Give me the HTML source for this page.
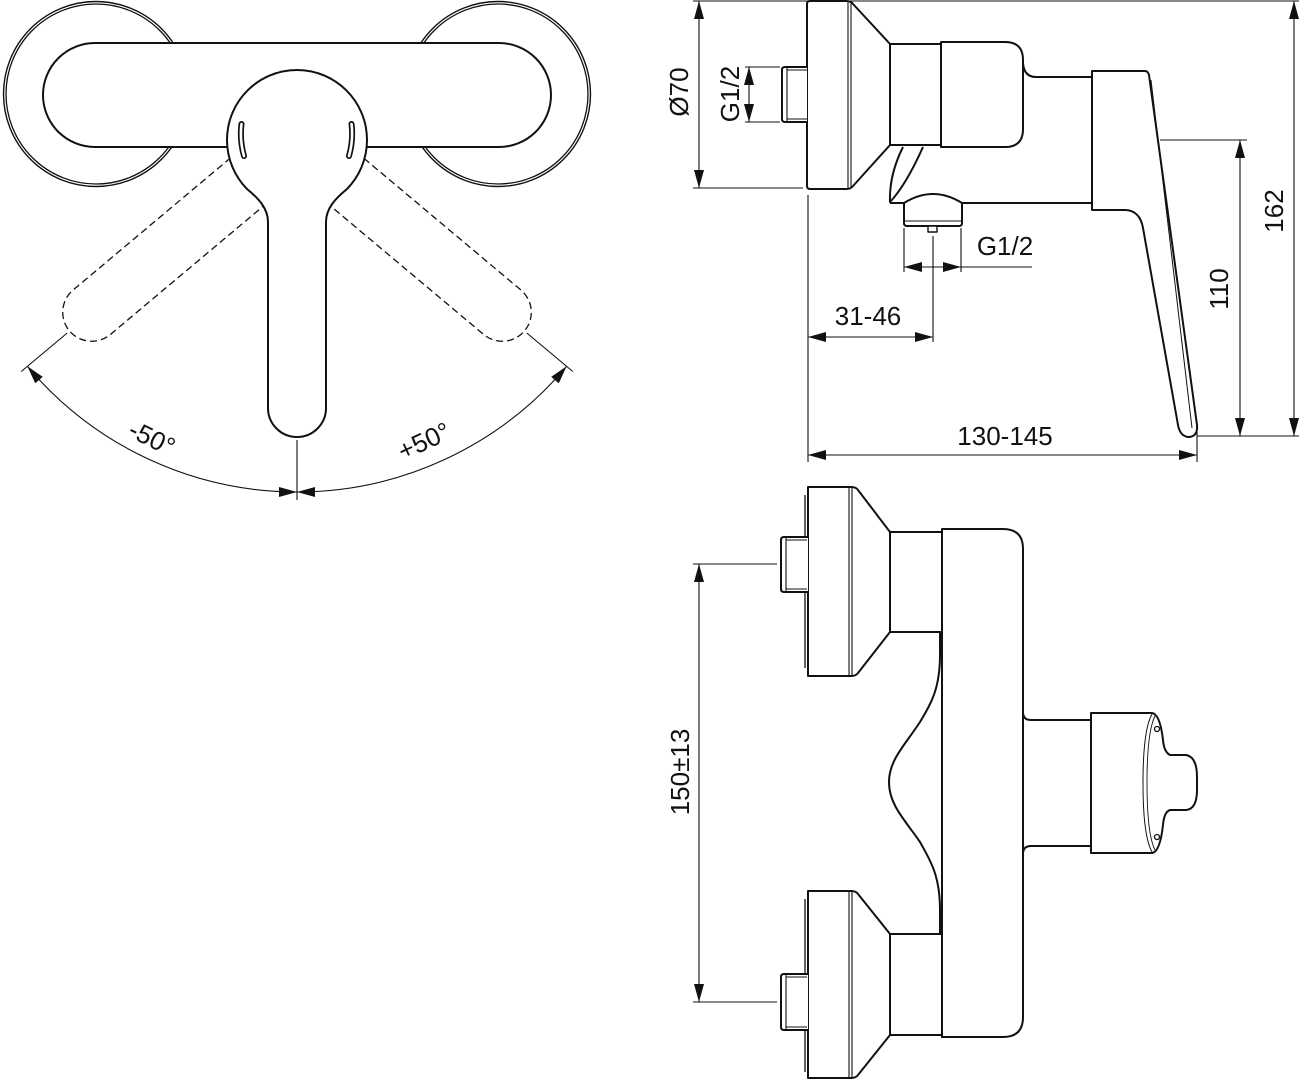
<!DOCTYPE html>
<html>
<head>
<meta charset="utf-8">
<style>
html,body{margin:0;padding:0;background:#fff;}
svg{display:block;}
text{font-family:"Liberation Sans",Arial,sans-serif;font-size:26px;fill:#111;}
</style>
</head>
<body>
<svg width="1299" height="1080" viewBox="0 0 1299 1080" xmlns="http://www.w3.org/2000/svg">
<rect width="1299" height="1080" fill="#fff"/>

<!-- ================= LEFT VIEW (front, handle) ================= -->
<g fill="none" stroke="#111" stroke-linejoin="round">
  <!-- wall rosettes (double line) -->
  <circle cx="96" cy="94" r="92.5" stroke-width="1.4"/>
  <circle cx="96" cy="94" r="90" stroke-width="1.3"/>
  <circle cx="498" cy="94" r="92.5" stroke-width="1.4"/>
  <circle cx="498" cy="94" r="90" stroke-width="1.3"/>
  <!-- body bar -->
  <rect x="43" y="43" width="508" height="104" rx="52" fill="#fff" stroke-width="2"/>
  <!-- dashed rotated levers -->
  <g stroke-dasharray="7 4" stroke-width="1.3">
    <path transform="rotate(50 297 140)" d="M268,180 L268,408 A29,29 0 0,0 326,408 L326,180"/>
    <path transform="rotate(-50 297 140)" d="M268,180 L268,408 A29,29 0 0,0 326,408 L326,180"/>
  </g>
  <!-- handle head + lever -->
  <path d="M268,408 L268,222 C268,208 258,198 247,189 A70,70 0 1,1 347,189 C336,198 326,208 326,222 L326,408 A29,29 0 0,1 268,408 Z" fill="#fff" stroke-width="2"/>
  <!-- slots -->
  <path d="M241.5,124 Q239.5,140 244,156" stroke-width="6" stroke-linecap="round"/>
  <path d="M241.5,124 Q239.5,140 244,156" stroke="#fff" stroke-width="2.6" stroke-linecap="round"/>
  <path d="M351.5,124 Q353.5,140 349,156" stroke-width="6" stroke-linecap="round"/>
  <path d="M351.5,124 Q353.5,140 349,156" stroke="#fff" stroke-width="2.6" stroke-linecap="round"/>

  <!-- angle dimension -->
  <g stroke-width="1.1">
    <path d="M67.2,333 L21.2,371.5"/>
    <path d="M526.8,333 L572.8,371.5"/>
    <path d="M27.4,366.3 A352,352 0 0,0 297,492"/>
    <path d="M566.6,366.3 A352,352 0 0,1 297,492"/>
    <path d="M297,440 V500"/>
  </g>
</g>
<g fill="#111" stroke="none">
  <polygon points="27.4,366.3 42.8,376.9 35.2,383.3"/>
  <polygon points="566.6,366.3 551.2,376.9 558.8,383.3"/>
  <polygon points="297,492 279,487 279,497"/>
  <polygon points="297,492 315,487 315,497"/>
</g>
<text transform="translate(152,438) rotate(26)" text-anchor="middle" y="9">-50°</text>
<text transform="translate(424,441) rotate(-25)" text-anchor="middle" y="9">+50°</text>

<!-- ================= SIDE VIEW (top right) ================= -->
<g fill="none" stroke="#111" stroke-linejoin="round" stroke-width="2">
  <!-- body top/bottom lines -->
  <path d="M1023,63 Q1024,77 1036,77 L1092,77"/>
  <path d="M890,203 L1092,203"/>
  <!-- escutcheon -->
  <path d="M807,4 Q807,1 810,1 L846,1 Q851,1 853,4 L890,44 L890,145 L853,186 Q851,189 846,189 L810,189 Q807,189 807,186 Z" fill="#fff"/>
  <path d="M848,2 V188 M851,2 V188" stroke-width="1.1"/>
  <!-- stub -->
  <path d="M807,67 L785,67 Q782,67 782,70 L782,119 Q782,122 785,122 L807,122" fill="#fff"/>
  <path d="M787,68 V121 M787,70 H807 M787,119 H807" stroke-width="1.1"/>
  <!-- cylinder -->
  <rect x="890" y="44" width="51" height="101" fill="#fff"/>
  <!-- bonnet -->
  <path d="M941,42 L1005,42 Q1023,42 1023,60 L1023,129 Q1023,147 1005,147 L941,147 Z" fill="#fff"/>
  <!-- diverter blade -->
  <path d="M903,147 Q889,175 890,202 Q906,185 923,147" fill="#fff"/>
  <!-- aerator -->
  <path d="M904,203 Q933,185 962,203 L962,223 Q962,226 959,226 L907,226 Q904,226 904,223 Z" fill="#fff"/>
  <path d="M904,221 H962" stroke-width="1.1"/>
  <rect x="928" y="226" width="9" height="6" fill="#fff" stroke-width="1.4"/>
  <!-- lever -->
  <path d="M1092,71 L1145,71 Q1148,71 1149,75 L1197,425 Q1198,437 1188,437 Q1180,436 1178,425 L1143,228 Q1140,211 1126,210 L1092,210 Z" fill="#fff"/>
  <path d="M1151,80 L1192,428" stroke-width="1"/>
</g>
<!-- side view dimensions -->
<g fill="none" stroke="#111" stroke-width="1.1">
  <path d="M699,1 V188"/>
  <path d="M693,1 H1299"/>
  <path d="M693,188 H803"/>
  <path d="M749,67 V122 M745,67 H780 M745,122 H780"/>
  <path d="M808,337 H933 M933,236 V342"/>
  <path d="M904,267 H1032 M904,228 V272 M961,228 V272"/>
  <path d="M808,455 H1197 M1197,432 V462 M808,195 V462"/>
  <path d="M1240,140 V436 M1160,140 H1247 M1197,436 H1299"/>
  <path d="M1294,1 V436"/>
</g>
<g fill="#111" stroke="none">
  <polygon points="699,1 694,19 704,19"/>
  <polygon points="699,188 694,170 704,170"/>
  <polygon points="749,67 744,85 754,85"/>
  <polygon points="749,122 744,104 754,104"/>
  <polygon points="808,337 826,332 826,342"/>
  <polygon points="933,337 915,332 915,342"/>
  <polygon points="904,267 922,262 922,272"/>
  <polygon points="961,267 943,262 943,272"/>
  <polygon points="808,455 826,450 826,460"/>
  <polygon points="1197,455 1179,450 1179,460"/>
  <polygon points="1240,140 1235,158 1245,158"/>
  <polygon points="1240,436 1235,418 1245,418"/>
  <polygon points="1294,1 1289,19 1299,19"/>
  <polygon points="1294,436 1289,418 1299,418"/>
</g>
<text transform="translate(688,92) rotate(-90)" text-anchor="middle">Ø70</text>
<text transform="translate(739,94) rotate(-90)" text-anchor="middle">G1/2</text>
<text transform="translate(1283,211) rotate(-90)" text-anchor="middle">162</text>
<text transform="translate(1228,289) rotate(-90)" text-anchor="middle">110</text>
<text x="1005" y="255" text-anchor="middle">G1/2</text>
<text x="868" y="325" text-anchor="middle">31-46</text>
<text x="1005" y="445" text-anchor="middle">130-145</text>

<!-- ================= FRONT VIEW (bottom right) ================= -->
<g fill="none" stroke="#111" stroke-linejoin="round" stroke-width="2">
  <!-- body -->
  <path d="M942,529 L1003,529 Q1023,529 1023,549 L1023,1017 Q1023,1037 1003,1037 L942,1037 Z" fill="#fff"/>
  <path d="M1023,712 Q1023,720 1031,720 L1091,720"/>
  <path d="M1023,854 Q1023,846 1031,846 L1091,846"/>
  <!-- wave -->
  <path d="M940,632 L940,655 C940,690 930,705 920,722 C905,745 889,760 889,782 C889,805 905,820 920,842 C930,860 940,875 940,910 L940,934"/>
  <!-- knob -->
  <path d="M1091,713 L1152,713 Q1160,714 1163,740 Q1164,752 1170,755 L1186,755 Q1197,757 1197,777 L1197,790 Q1197,809 1186,810 L1170,810 Q1164,812 1163,825 Q1160,852 1152,853 L1091,853 Z" fill="#fff"/>
  <path d="M1152,714 Q1143,730 1143,783 Q1143,836 1152,852" stroke-width="1"/>
  <path d="M1155,716 Q1147,732 1147,783 Q1147,834 1155,850" stroke-width="0.9"/>
  <circle cx="1157" cy="729" r="2.5" stroke-width="1.3"/>
  <circle cx="1157" cy="837" r="2.5" stroke-width="1.3"/>
  <!-- upper cylinder -->
  <rect x="890" y="532" width="52" height="100" fill="#fff"/>
  <!-- upper escutcheon -->
  <path d="M808,487 L851,487 Q856,487 858,490 L890,532 L890,632 L858,673 Q856,676 851,676 L808,676 Z" fill="#fff"/>
  <path d="M849,488 V675 M852,488 V675" stroke-width="1.1"/>
  <path d="M805,495 V668" stroke-width="1.3"/>
  <!-- upper stub -->
  <path d="M808,537 L784,537 Q781,537 781,540 L781,589 Q781,592 784,592 L808,592" fill="#fff"/>
  <path d="M786,538 V591 M786,540 H807 M786,589 H807" stroke-width="1.1"/>
  <!-- lower cylinder -->
  <rect x="890" y="934" width="52" height="101" fill="#fff"/>
  <!-- lower escutcheon -->
  <path d="M808,891 L851,891 Q856,891 858,894 L890,934 L890,1035 L858,1075 Q856,1078 851,1078 L808,1078 Z" fill="#fff"/>
  <path d="M849,892 V1077 M852,892 V1077" stroke-width="1.1"/>
  <path d="M805,899 V1072" stroke-width="1.3"/>
  <!-- lower stub -->
  <path d="M808,974 L784,974 Q781,974 781,977 L781,1027 Q781,1030 784,1030 L808,1030" fill="#fff"/>
  <path d="M786,975 V1029 M786,977 H807 M786,1027 H807" stroke-width="1.1"/>
</g>
<g fill="none" stroke="#111" stroke-width="1.1">
  <path d="M699,564 V1002 M693,564 H777 M693,1002 H777"/>
</g>
<g fill="#111" stroke="none">
  <polygon points="699,564 694,582 704,582"/>
  <polygon points="699,1002 694,984 704,984"/>
</g>
<text transform="translate(689,772) rotate(-90)" text-anchor="middle">150±13</text>
</svg>
</body>
</html>
